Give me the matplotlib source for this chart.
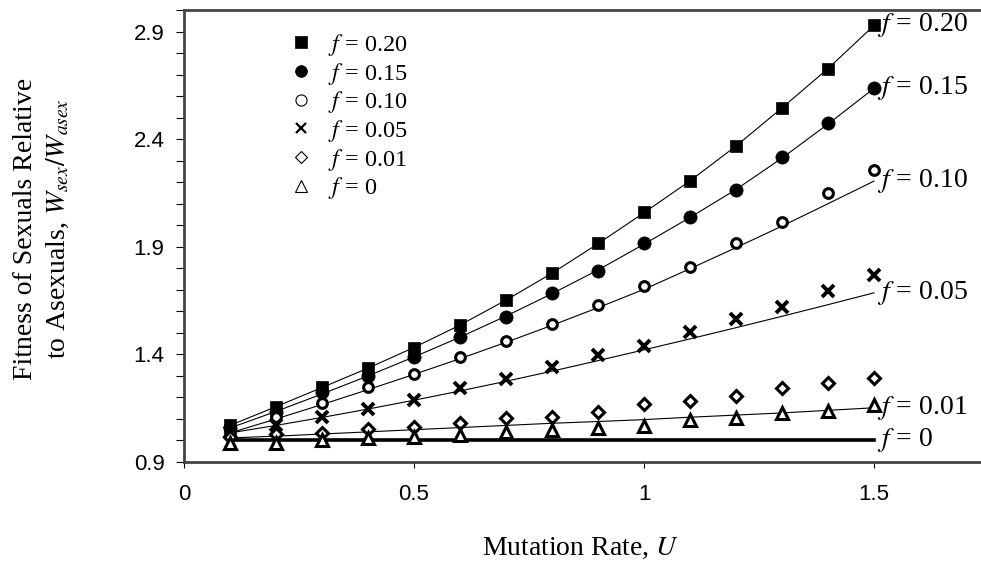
import matplotlib
matplotlib.use("Agg")
import matplotlib.pyplot as plt
from matplotlib.lines import Line2D
from matplotlib.ticker import MultipleLocator, FixedLocator

plt.rcParams["font.family"] = ["Liberation Serif", "DejaVu Serif"]
plt.rcParams["mathtext.fontset"] = "stix"

# mutation rate U
mut_rate = [0.1, 0.2, 0.3, 0.4, 0.5, 0.6, 0.7, 0.8, 0.9, 1.0, 1.1, 1.2, 1.3, 1.4, 1.5]

# simulated W_sex / W_asex (points)
sim_f020 = [1.07, 1.155, 1.248, 1.336, 1.429, 1.536, 1.652, 1.777, 1.916, 2.06, 2.204, 2.366, 2.547, 2.728, 2.928]
sim_f015 = [1.058, 1.132, 1.225, 1.30, 1.387, 1.48, 1.573, 1.684, 1.786, 1.916, 2.037, 2.162, 2.315, 2.473, 2.636]
sim_f010 = [1.035, 1.109, 1.174, 1.248, 1.308, 1.387, 1.461, 1.54, 1.629, 1.717, 1.805, 1.916, 2.014, 2.148, 2.255]
sim_f005 = [1.04, 1.072, 1.109, 1.146, 1.188, 1.243, 1.285, 1.341, 1.396, 1.438, 1.503, 1.564, 1.619, 1.694, 1.768]
sim_f001 = [1.016, 1.03, 1.035, 1.053, 1.062, 1.081, 1.104, 1.109, 1.132, 1.169, 1.183, 1.206, 1.243, 1.267, 1.29]
sim_f000 = [0.988, 0.988, 1.002, 1.011, 1.016, 1.025, 1.04, 1.048, 1.058, 1.067, 1.095, 1.104, 1.127, 1.137, 1.165]

# analytical curves (lines)
thy_f020 = [1.07, 1.157, 1.246, 1.336, 1.432, 1.536, 1.652, 1.777, 1.914, 2.058, 2.206, 2.368, 2.545, 2.728, 2.928]
thy_f015 = [1.058, 1.135, 1.216, 1.30, 1.388, 1.48, 1.578, 1.682, 1.792, 1.912, 2.036, 2.166, 2.312, 2.47, 2.636]
thy_f010 = [1.035, 1.10, 1.167, 1.236, 1.307, 1.38, 1.456, 1.535, 1.617, 1.702, 1.798, 1.896, 1.996, 2.10, 2.205]
thy_f005 = [1.035, 1.07, 1.107, 1.146, 1.187, 1.23, 1.275, 1.322, 1.371, 1.421, 1.472, 1.524, 1.577, 1.631, 1.686]
thy_f001 = [1.012, 1.02, 1.03, 1.04, 1.05, 1.06, 1.07, 1.08, 1.088, 1.097, 1.108, 1.118, 1.128, 1.14, 1.152]
thy_f000 = [1.0] * 15

labels = ["0.20", "0.15", "0.10", "0.05", "0.01", "0"]
sims = [sim_f020, sim_f015, sim_f010, sim_f005, sim_f001, sim_f000]
theories = [thy_f020, thy_f015, thy_f010, thy_f005, thy_f001, thy_f000]

# marker styles: (marker, size, filled, edge width)
styles = [
    ("s", 9, True, 0.5),
    ("o", 9.5, True, 0.5),
    ("o", 7, False, 2.2),
    ("x", 8.5, False, 2.8),
    ("D", 6.5, False, 2.2),
    ("^", 8, False, 2.2),
]
legend_styles = [
    ("s", 8, True, 0.5),
    ("o", 8.5, True, 0.5),
    ("o", 8, False, 0.8),
    ("x", 6.5, False, 1.6),
    ("D", 6, False, 0.8),
    ("^", 8, False, 0.8),
]

fig = plt.figure(figsize=(9.81, 5.67), dpi=100)
ax = fig.add_axes([184 / 981, 1 - 462 / 567, 797 / 981, 452 / 567])

for i, (sim, thy) in enumerate(zip(sims, theories)):
    lw = 2.6 if i == 5 else 0.8
    ax.plot(mut_rate, thy, color="black", lw=lw, zorder=2)
    m, ms, filled, mew = styles[i]
    ax.plot(mut_rate, sim, linestyle="none", marker=m, markersize=ms,
            markerfacecolor="black" if filled else "white",
            markeredgecolor="black", markeredgewidth=mew, zorder=3)
    ax.text(mut_rate[-1] + 0.007, thy[-1], "$f$ = " + labels[i],
            fontsize=20, ha="left", va="center")

handles = []
for i, lab in enumerate(labels):
    m, ms, filled, mew = legend_styles[i]
    handles.append(Line2D([], [], linestyle="none", marker=m, markersize=ms,
                          markerfacecolor="black" if filled else "white",
                          markeredgecolor="black", markeredgewidth=mew,
                          label="$f$ = " + lab))
ax.legend(handles=handles, loc="upper left", bbox_to_anchor=(0.104, 1.0),
          frameon=False, fontsize=17.5, handletextpad=0.6, labelspacing=0.11,
          handlelength=1.0)

ax.set_xlim(0, 797 / 460)
ax.set_ylim(0.9, 3.0)
ax.xaxis.set_major_locator(FixedLocator([0, 0.5, 1.0, 1.5]))
ax.set_xticklabels(["0", "0.5", "1", "1.5"])
ax.yaxis.set_major_locator(FixedLocator([0.9, 1.4, 1.9, 2.4, 2.9]))
ax.yaxis.set_minor_locator(MultipleLocator(0.1))
for lab in ax.get_xticklabels() + ax.get_yticklabels():
    lab.set_fontfamily("Liberation Sans")
    lab.set_fontsize(16)
ax.tick_params(axis="x", which="major", direction="out", length=4, width=0.8, pad=12)
ax.tick_params(axis="y", which="both", direction="out", length=6, width=0.8, pad=8)

for side in ["left", "bottom", "top"]:
    ax.spines[side].set_linewidth(2.0)
    ax.spines[side].set_color("#444444")
ax.spines["right"].set_visible(False)

fig.text(580 / 981, 1 - 548 / 567, "Mutation Rate, $U$", fontsize=20,
         ha="center", va="center")
fig.text(42 / 981, 1 - 229 / 567,
         "Fitness of Sexuals Relative\nto Asexuals, $W_{sex}/W_{asex}$",
         fontsize=20, rotation=90, ha="center", va="center",
         multialignment="center", linespacing=1.3)

fig.savefig("out.png", dpi=100)
